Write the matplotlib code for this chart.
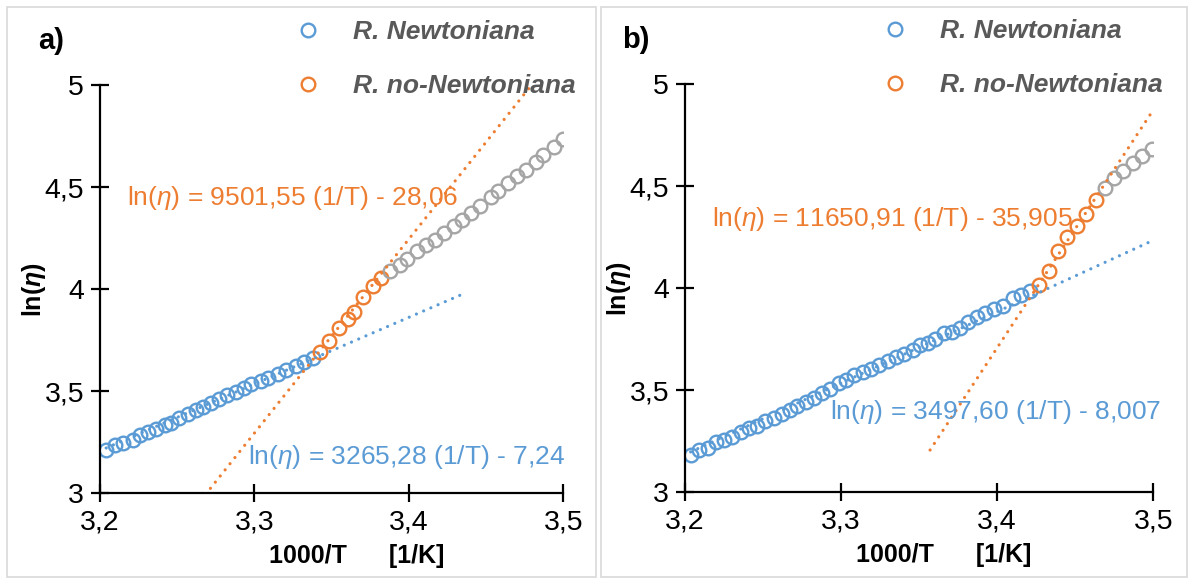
import matplotlib
matplotlib.use("Agg")
import numpy as np
import matplotlib.pyplot as plt
from matplotlib.patches import Rectangle
from matplotlib.font_manager import FontProperties

plt.rcParams['font.family'] = ['Liberation Sans', 'DejaVu Sans']
plt.rcParams['mathtext.fontset'] = 'custom'
plt.rcParams['mathtext.rm'] = 'Liberation Sans'
plt.rcParams['mathtext.it'] = 'Liberation Sans:italic'
plt.rcParams['mathtext.bf'] = 'Liberation Sans:bold'
plt.rcParams['mathtext.bfit'] = 'Liberation Sans:bold:italic'

AZUL = '#5B9BD5'
NARANJA = '#ED7D31'
GRIS = '#A5A5A5'

# ---- panel a) ----
a_x_newt = [3.204, 3.210, 3.215, 3.2215, 3.226, 3.231, 3.236, 3.242, 3.246, 3.251,
            3.257, 3.262, 3.267, 3.272, 3.277, 3.282, 3.288, 3.293, 3.298, 3.304,
            3.309, 3.315, 3.3205, 3.327, 3.332, 3.338]
a_y_newt = [3.212, 3.235, 3.244, 3.262, 3.284, 3.302, 3.317, 3.335, 3.344, 3.371,
            3.389, 3.407, 3.425, 3.443, 3.461, 3.480, 3.494, 3.516, 3.534, 3.548,
            3.566, 3.585, 3.606, 3.624, 3.643, 3.665]
a_x_nonewt = [3.3426, 3.3486, 3.3545, 3.3605, 3.3643, 3.3702, 3.3769, 3.3821]
a_y_nonewt = [3.690, 3.745, 3.810, 3.853, 3.886, 3.962, 4.016, 4.054]
a_x_resto = [3.3875, 3.394, 3.399, 3.405, 3.411, 3.417, 3.423, 3.429, 3.4345, 3.440,
             3.446, 3.453, 3.458, 3.464, 3.470, 3.476, 3.482, 3.487, 3.494, 3.500]
a_y_resto = [4.087, 4.118, 4.150, 4.187, 4.214, 4.241, 4.277, 4.310, 4.341, 4.371,
             4.408, 4.449, 4.480, 4.522, 4.553, 4.585, 4.621, 4.658, 4.697, 4.734]
# tendencias: pendiente, ordenada, rango x
a_tend_newt = (3.26528, -7.24, 3.204, 3.436)
a_tend_nonewt = (9.50155, -28.06, 3.262, 3.478)

# ---- panel b) ----
b_x_newt = [3.2036, 3.209, 3.215, 3.2199, 3.2247, 3.230, 3.2356, 3.2412, 3.246, 3.2513,
            3.2567, 3.2622, 3.2671, 3.2719, 3.2775, 3.2828, 3.2877, 3.293, 3.2985, 3.3034,
            3.3082, 3.3138, 3.3191, 3.3245, 3.330, 3.3349, 3.3404, 3.3458, 3.3506, 3.3554,
            3.3603, 3.3656, 3.3712, 3.376, 3.3816, 3.3869, 3.3923, 3.3978, 3.4034, 3.4099,
            3.4155, 3.4208]
b_y_newt = [3.185, 3.208, 3.217, 3.244, 3.257, 3.271, 3.293, 3.317, 3.326, 3.348,
            3.366, 3.384, 3.402, 3.425, 3.443, 3.462, 3.485, 3.507, 3.534, 3.552,
            3.576, 3.588, 3.606, 3.624, 3.643, 3.661, 3.679, 3.697, 3.720, 3.733,
            3.751, 3.778, 3.787, 3.805, 3.833, 3.860, 3.878, 3.896, 3.914, 3.950,
            3.968, 3.986]
b_x_nonewt = [3.4269, 3.4334, 3.439, 3.445, 3.4511, 3.4571, 3.4632]
b_y_nonewt = [4.017, 4.082, 4.180, 4.249, 4.303, 4.361, 4.433]
b_x_resto = [3.4692, 3.4746, 3.4809, 3.4869, 3.493, 3.499]
b_y_resto = [4.493, 4.542, 4.575, 4.614, 4.647, 4.683]
b_tend_newt = (3.4976, -8.007, 3.2036, 3.5)
b_tend_nonewt = (11.65091, -35.905, 3.357, 3.5)

x_ticks = [3.2, 3.3, 3.4, 3.5]
x_ticklabels = ['3,2', '3,3', '3,4', '3,5']
y_ticks = [3, 3.5, 4, 4.5, 5]
y_ticklabels = ['3', '3,5', '4', '4,5', '5']

fig = plt.figure(figsize=(11.91, 5.80), dpi=100)
W, H = 1191, 580

# marcos grises de cada grafico
for x0, x1 in [(7, 596), (601, 1187)]:
    fig.patches.append(Rectangle((x0 / W, 3 / H), (x1 - x0) / W, (573 - 3) / H,
                                 transform=fig.transFigure, fill=False,
                                 edgecolor='#D9D9D9', lw=1.2))

ax1 = fig.add_axes([100 / W, (H - 493.3) / H, 463.3 / W, 408.3 / H])
ax2 = fig.add_axes([685 / W, (H - 492.3) / H, 468.3 / W, 408.3 / H])


def tendencia(ax, t, color):
    m, b, xa, xb = t
    xs = np.array([xa, xb])
    ax.plot(xs, m * xs + b, color=color, lw=2.3, linestyle=(0, (0.01, 2.45)),
            dash_capstyle='round', zorder=3)


def panel(ax, xn, yn, xo, yo, xr, yr, tn, to, letra, eq_o, eq_n, pos_o, pos_n, leg_x):
    h1, = ax.plot(xn, yn, 'o', mfc='none', mec=AZUL, ms=9.8, mew=1.7, zorder=2,
                  label='R. Newtoniana')
    h2, = ax.plot(xo, yo, 'o', mfc='none', mec=NARANJA, ms=9.8, mew=1.7, zorder=2,
                  label='R. no-Newtoniana')
    ax.plot(xr, yr, 'o', mfc='none', mec=GRIS, ms=9.8, mew=1.7, zorder=2)
    tendencia(ax, tn, AZUL)
    tendencia(ax, to, NARANJA)

    ax.set_xlim(3.2, 3.5)
    ax.set_ylim(3, 5)
    ax.set_xticks(x_ticks)
    ax.set_xticklabels(x_ticklabels)
    ax.set_yticks(y_ticks)
    ax.set_yticklabels(y_ticklabels)
    ax.tick_params(direction='inout', length=13, width=1.6, labelsize=20.5,
                   colors='black')
    ax.tick_params(axis='x', pad=5)
    ax.tick_params(axis='y', pad=5)
    for s in ['top', 'right']:
        ax.spines[s].set_visible(False)
    for s in ['left', 'bottom']:
        ax.spines[s].set_linewidth(1.6)
        ax.spines[s].set_color('black')

    ax.text(pos_o[0], pos_o[1], eq_o, color=NARANJA, fontsize=19, ha='left',
            va='center', zorder=4)
    ax.text(pos_n[0], pos_n[1], eq_n, color=AZUL, fontsize=19, ha='right',
            va='center', zorder=4)

    ax.text(-0.105, 1.107, letra, transform=ax.transAxes, fontsize=21,
            fontweight='bold', ha='center', va='center')
    ax.set_ylabel(r'ln($\boldsymbol{\eta}$)', fontsize=18, fontweight='bold')
    ax.yaxis.label.set_va('center')
    ax.yaxis.set_label_coords(-0.142, 0.5)
    ax.set_xlabel('1000/T      [1/K]', fontsize=18, fontweight='bold')
    ax.xaxis.label.set_va('center')
    ax.xaxis.set_label_coords(0.553, -0.154)

    ax.legend(handles=[h1, h2], loc='upper left', bbox_to_anchor=(leg_x, 1.158),
              frameon=False, handlelength=1.0, handletextpad=1.2,
              borderpad=0, borderaxespad=0, labelspacing=1.12,
              prop=FontProperties(family='Liberation Sans', weight='bold',
                                  style='italic', size=19),
              labelcolor='#595959')


panel(ax1, a_x_newt, a_y_newt, a_x_nonewt, a_y_nonewt, a_x_resto, a_y_resto,
      a_tend_newt, a_tend_nonewt, 'a)',
      r'ln($\eta$) = 9501,55 (1/T) - 28,06',
      r'ln($\eta$) = 3265,28 (1/T) - 7,24',
      (3.2178, 4.448), (3.501, 3.176), 0.42)
panel(ax2, b_x_newt, b_y_newt, b_x_nonewt, b_y_nonewt, b_x_resto, b_y_resto,
      b_tend_newt, b_tend_nonewt, 'b)',
      r'ln($\eta$) = 11650,91 (1/T) - 35,905',
      r'ln($\eta$) = 3497,60 (1/T) - 8,007',
      (3.217, 4.339), (3.505, 3.395), 0.42)

fig.savefig('out.png', dpi=100)
